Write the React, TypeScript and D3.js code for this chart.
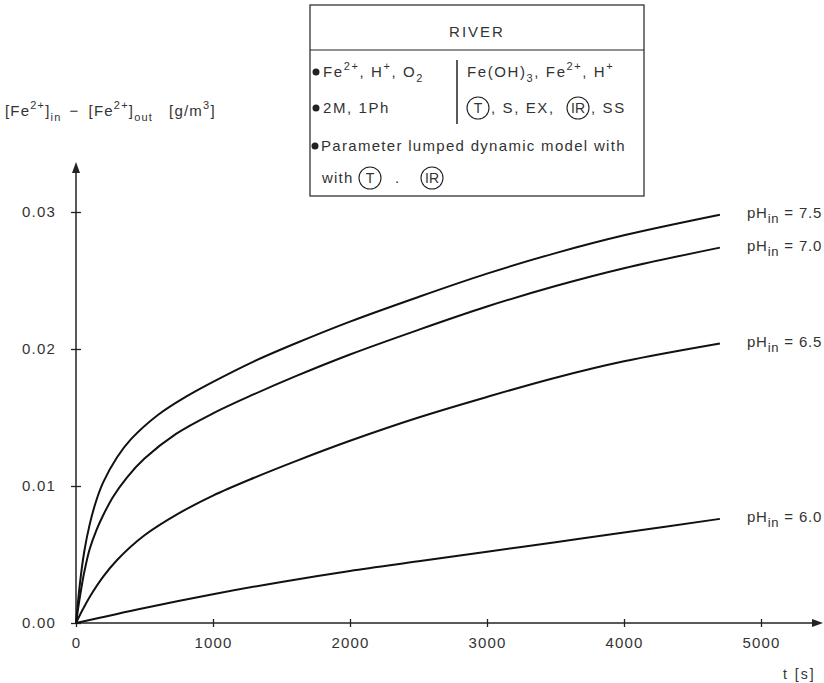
import React, { useRef, useEffect } from 'react';
import * as d3 from 'd3';

// curve data (t in s, concentration difference in g/m3)
const phLabels = ['7.5', '7.0', '6.5', '6.0'];
const t75 = [0, 30, 60, 100, 150, 200, 300, 400, 600, 800, 1000, 1300, 1600, 2000, 2500, 3000, 3500, 4000, 4700];
const v75 = [0, 0.003, 0.0052, 0.0072, 0.009, 0.0103, 0.0121, 0.0134, 0.0152, 0.0165, 0.0176, 0.0191, 0.0204, 0.022, 0.0238, 0.0255, 0.027, 0.0283, 0.0298];
const t70 = [0, 30, 60, 100, 150, 200, 270, 370, 500, 730, 1000, 1300, 1600, 2000, 2500, 3000, 3500, 4000, 4700];
const v70 = [0, 0.002, 0.0037, 0.0054, 0.0068, 0.0079, 0.0092, 0.0106, 0.012, 0.0138, 0.0153, 0.0167, 0.018, 0.0196, 0.0214, 0.0231, 0.0246, 0.0259, 0.0274];
const t65 = [0, 50, 100, 200, 300, 500, 750, 1000, 1300, 1600, 2000, 2500, 3000, 3500, 4000, 4700];
const v65 = [0, 0.001, 0.0019, 0.0034, 0.0046, 0.0064, 0.008, 0.0093, 0.0106, 0.0118, 0.0133, 0.015, 0.0165, 0.0179, 0.0191, 0.0204];
const t60 = [0, 500, 1000, 1500, 2000, 2500, 3000, 3500, 4000, 4700];
const v60 = [0, 0.0011, 0.0021, 0.003, 0.0038, 0.0045, 0.0052, 0.0059, 0.0066, 0.0076];

const xTicks = [0, 1000, 2000, 3000, 4000, 5000];
const yTicks = [0, 0.01, 0.02, 0.03];

const FONT = '"Liberation Sans", Arial, sans-serif';
const INK = '#333';

const App = () => {
    const ref = useRef<SVGSVGElement>(null);

    useEffect(() => {
        const width = 824;
        const height = 683;

        const x = d3.scaleLinear().domain([0, 5000]).range([76, 761]);
        const y = d3.scaleLinear().domain([0, 0.03]).range([623, 212]);

        const svg = d3.select(ref.current)
            .attr('width', width)
            .attr('height', height)
            .style('font-family', FONT);
        svg.selectAll('*').remove();

        // axes
        const xAxis = svg.append('g')
            .attr('transform', `translate(0,${y(0)})`)
            .call(d3.axisBottom(x).tickValues(xTicks).tickSize(4).tickPadding(10).tickFormat(d3.format('d')));
        xAxis.select('.domain').remove();
        xAxis.selectAll('.tick line').attr('y1', -4).attr('y2', 4).attr('stroke', '#222').attr('stroke-width', 1.3);
        xAxis.selectAll('.tick text').attr('font-size', 15).attr('letter-spacing', 1.2)
            .attr('fill', INK).attr('font-family', FONT);

        const yAxis = svg.append('g')
            .attr('transform', `translate(${x(0)},0)`)
            .call(d3.axisLeft(y).tickValues(yTicks).tickSize(5).tickPadding(15).tickFormat(d3.format('.2f')));
        yAxis.select('.domain').remove();
        yAxis.selectAll('.tick line').attr('x1', -5).attr('x2', 5).attr('stroke', '#222').attr('stroke-width', 1.3);
        yAxis.selectAll('.tick text').attr('font-size', 15).attr('letter-spacing', 1.2)
            .attr('fill', INK).attr('font-family', FONT);

        const x0 = x(0);
        const y0 = y(0);
        svg.append('line').attr('x1', x0).attr('y1', y0).attr('x2', 816).attr('y2', y0)
            .attr('stroke', '#222').attr('stroke-width', 1.5);
        svg.append('path').attr('d', `M823,${y0} L812,${y0 - 4} L812,${y0 + 4} Z`).attr('fill', '#222');
        svg.append('line').attr('x1', x0).attr('y1', y0).attr('x2', x0).attr('y2', 170)
            .attr('stroke', '#222').attr('stroke-width', 1.5);
        svg.append('path').attr('d', `M${x0},162 L${x0 - 4},173 L${x0 + 4},173 Z`).attr('fill', '#222');

        svg.append('text').attr('x', 783).attr('y', 679).attr('font-size', 14).attr('letter-spacing', 2)
            .attr('fill', INK).text('t [s]');

        // y title
        const yt = svg.append('text').attr('x', 5).attr('y', 116).attr('font-size', 15)
            .attr('letter-spacing', 1.2).attr('fill', INK);
        yt.append('tspan').text('[Fe');
        yt.append('tspan').attr('dy', -7).attr('font-size', 11).text('2+');
        yt.append('tspan').attr('dy', 7).text(']');
        yt.append('tspan').attr('dy', 5).attr('font-size', 11).text('in');
        yt.append('tspan').attr('dy', -5).attr('dx', 8).text('\u2212');
        yt.append('tspan').attr('dx', 9).text('[Fe');
        yt.append('tspan').attr('dy', -7).attr('font-size', 11).text('2+');
        yt.append('tspan').attr('dy', 7).text(']');
        yt.append('tspan').attr('dy', 5).attr('font-size', 11).text('out');
        yt.append('tspan').attr('dy', -5).attr('dx', 16).text('[g/m');
        yt.append('tspan').attr('dy', -7).attr('font-size', 11).text('3');
        yt.append('tspan').attr('dy', 7).text(']');

        // curves
        const series = [
            { ph: phLabels[0], t: t75, v: v75 },
            { ph: phLabels[1], t: t70, v: v70 },
            { ph: phLabels[2], t: t65, v: v65 },
            { ph: phLabels[3], t: t60, v: v60 },
        ];
        const gen = d3.line<[number, number]>()
            .x(d => x(d[0]))
            .y(d => y(d[1]))
            .curve(d3.curveCatmullRom.alpha(0.5));

        series.forEach(s => {
            const pts = s.t.map((t, i) => [t, s.v[i]] as [number, number]);
            svg.append('path')
                .attr('d', gen(pts))
                .attr('fill', 'none')
                .attr('stroke', '#111')
                .attr('stroke-width', 2);

            const last = pts[pts.length - 1];
            const lbl = svg.append('text')
                .attr('x', x(last[0]) + 27)
                .attr('y', y(last[1]) + 3)
                .attr('font-size', 15)
                .attr('letter-spacing', 0.8)
                .attr('fill', INK);
            lbl.append('tspan').text('pH');
            lbl.append('tspan').attr('dy', 5).attr('font-size', 13).text('in');
            lbl.append('tspan').attr('dy', -5).text(` = ${s.ph}`);
        });

        // description box
        const bx = 310, by = 5, bw = 334, bh = 191;
        const box = svg.append('g');
        box.append('rect').attr('x', bx).attr('y', by).attr('width', bw).attr('height', bh)
            .attr('fill', 'white').attr('stroke', '#222').attr('stroke-width', 1.2);
        box.append('line').attr('x1', bx).attr('x2', bx + bw).attr('y1', 50).attr('y2', 50)
            .attr('stroke', '#222').attr('stroke-width', 1.2);
        box.append('text').attr('x', bx + bw / 2).attr('y', 37).attr('text-anchor', 'middle')
            .attr('font-size', 15).attr('letter-spacing', 2).attr('fill', INK).text('RIVER');
        box.append('line').attr('x1', 457).attr('x2', 457).attr('y1', 60).attr('y2', 124)
            .attr('stroke', '#222').attr('stroke-width', 1.5);

        const bullet = (cx: number, cy: number) =>
            box.append('circle').attr('cx', cx).attr('cy', cy).attr('r', 3.5).attr('fill', '#222');
        const circled = (cx: number, cy: number, label: string) => {
            box.append('circle').attr('cx', cx).attr('cy', cy).attr('r', 11)
                .attr('fill', 'none').attr('stroke', '#222').attr('stroke-width', 1.1);
            box.append('text').attr('x', cx).attr('y', cy + 5).attr('text-anchor', 'middle')
                .attr('font-size', 14).attr('fill', INK).text(label);
        };
        const txt = (tx: number, ty: number) =>
            box.append('text').attr('x', tx).attr('y', ty).attr('font-size', 15)
                .attr('letter-spacing', 1.6).attr('fill', INK);

        // row 1
        bullet(316, 72);
        const r1 = txt(323, 77);
        r1.append('tspan').text('Fe');
        r1.append('tspan').attr('dy', -7).attr('font-size', 11).text('2+');
        r1.append('tspan').attr('dy', 7).text(', H');
        r1.append('tspan').attr('dy', -7).attr('font-size', 11).text('+');
        r1.append('tspan').attr('dy', 7).text(', O');
        r1.append('tspan').attr('dy', 5).attr('font-size', 11).text('2');
        const r1b = txt(467, 77);
        r1b.append('tspan').text('Fe(OH)');
        r1b.append('tspan').attr('dy', 5).attr('font-size', 11).text('3');
        r1b.append('tspan').attr('dy', -5).text(', Fe');
        r1b.append('tspan').attr('dy', -7).attr('font-size', 11).text('2+');
        r1b.append('tspan').attr('dy', 7).text(', H');
        r1b.append('tspan').attr('dy', -7).attr('font-size', 11).text('+');

        // row 2
        bullet(316, 108);
        txt(323, 113).text('2M, 1Ph');
        circled(478, 108, 'T');
        txt(491, 113).text(', S, EX,');
        circled(578, 108, 'IR');
        txt(591, 113).text(', SS');

        // rows 3-4
        bullet(315, 146);
        txt(321, 151).attr('letter-spacing', 1.3).text('Parameter lumped dynamic model with');
        txt(322, 183).attr('letter-spacing', 1.2).text('with');
        circled(370, 178, 'T');
        txt(395, 183).text('.');
        circled(432, 178, 'IR');
    }, []);

    return <svg ref={ref} style={{ position: 'absolute', left: 0, top: 0 }}></svg>;
};

export default App;
